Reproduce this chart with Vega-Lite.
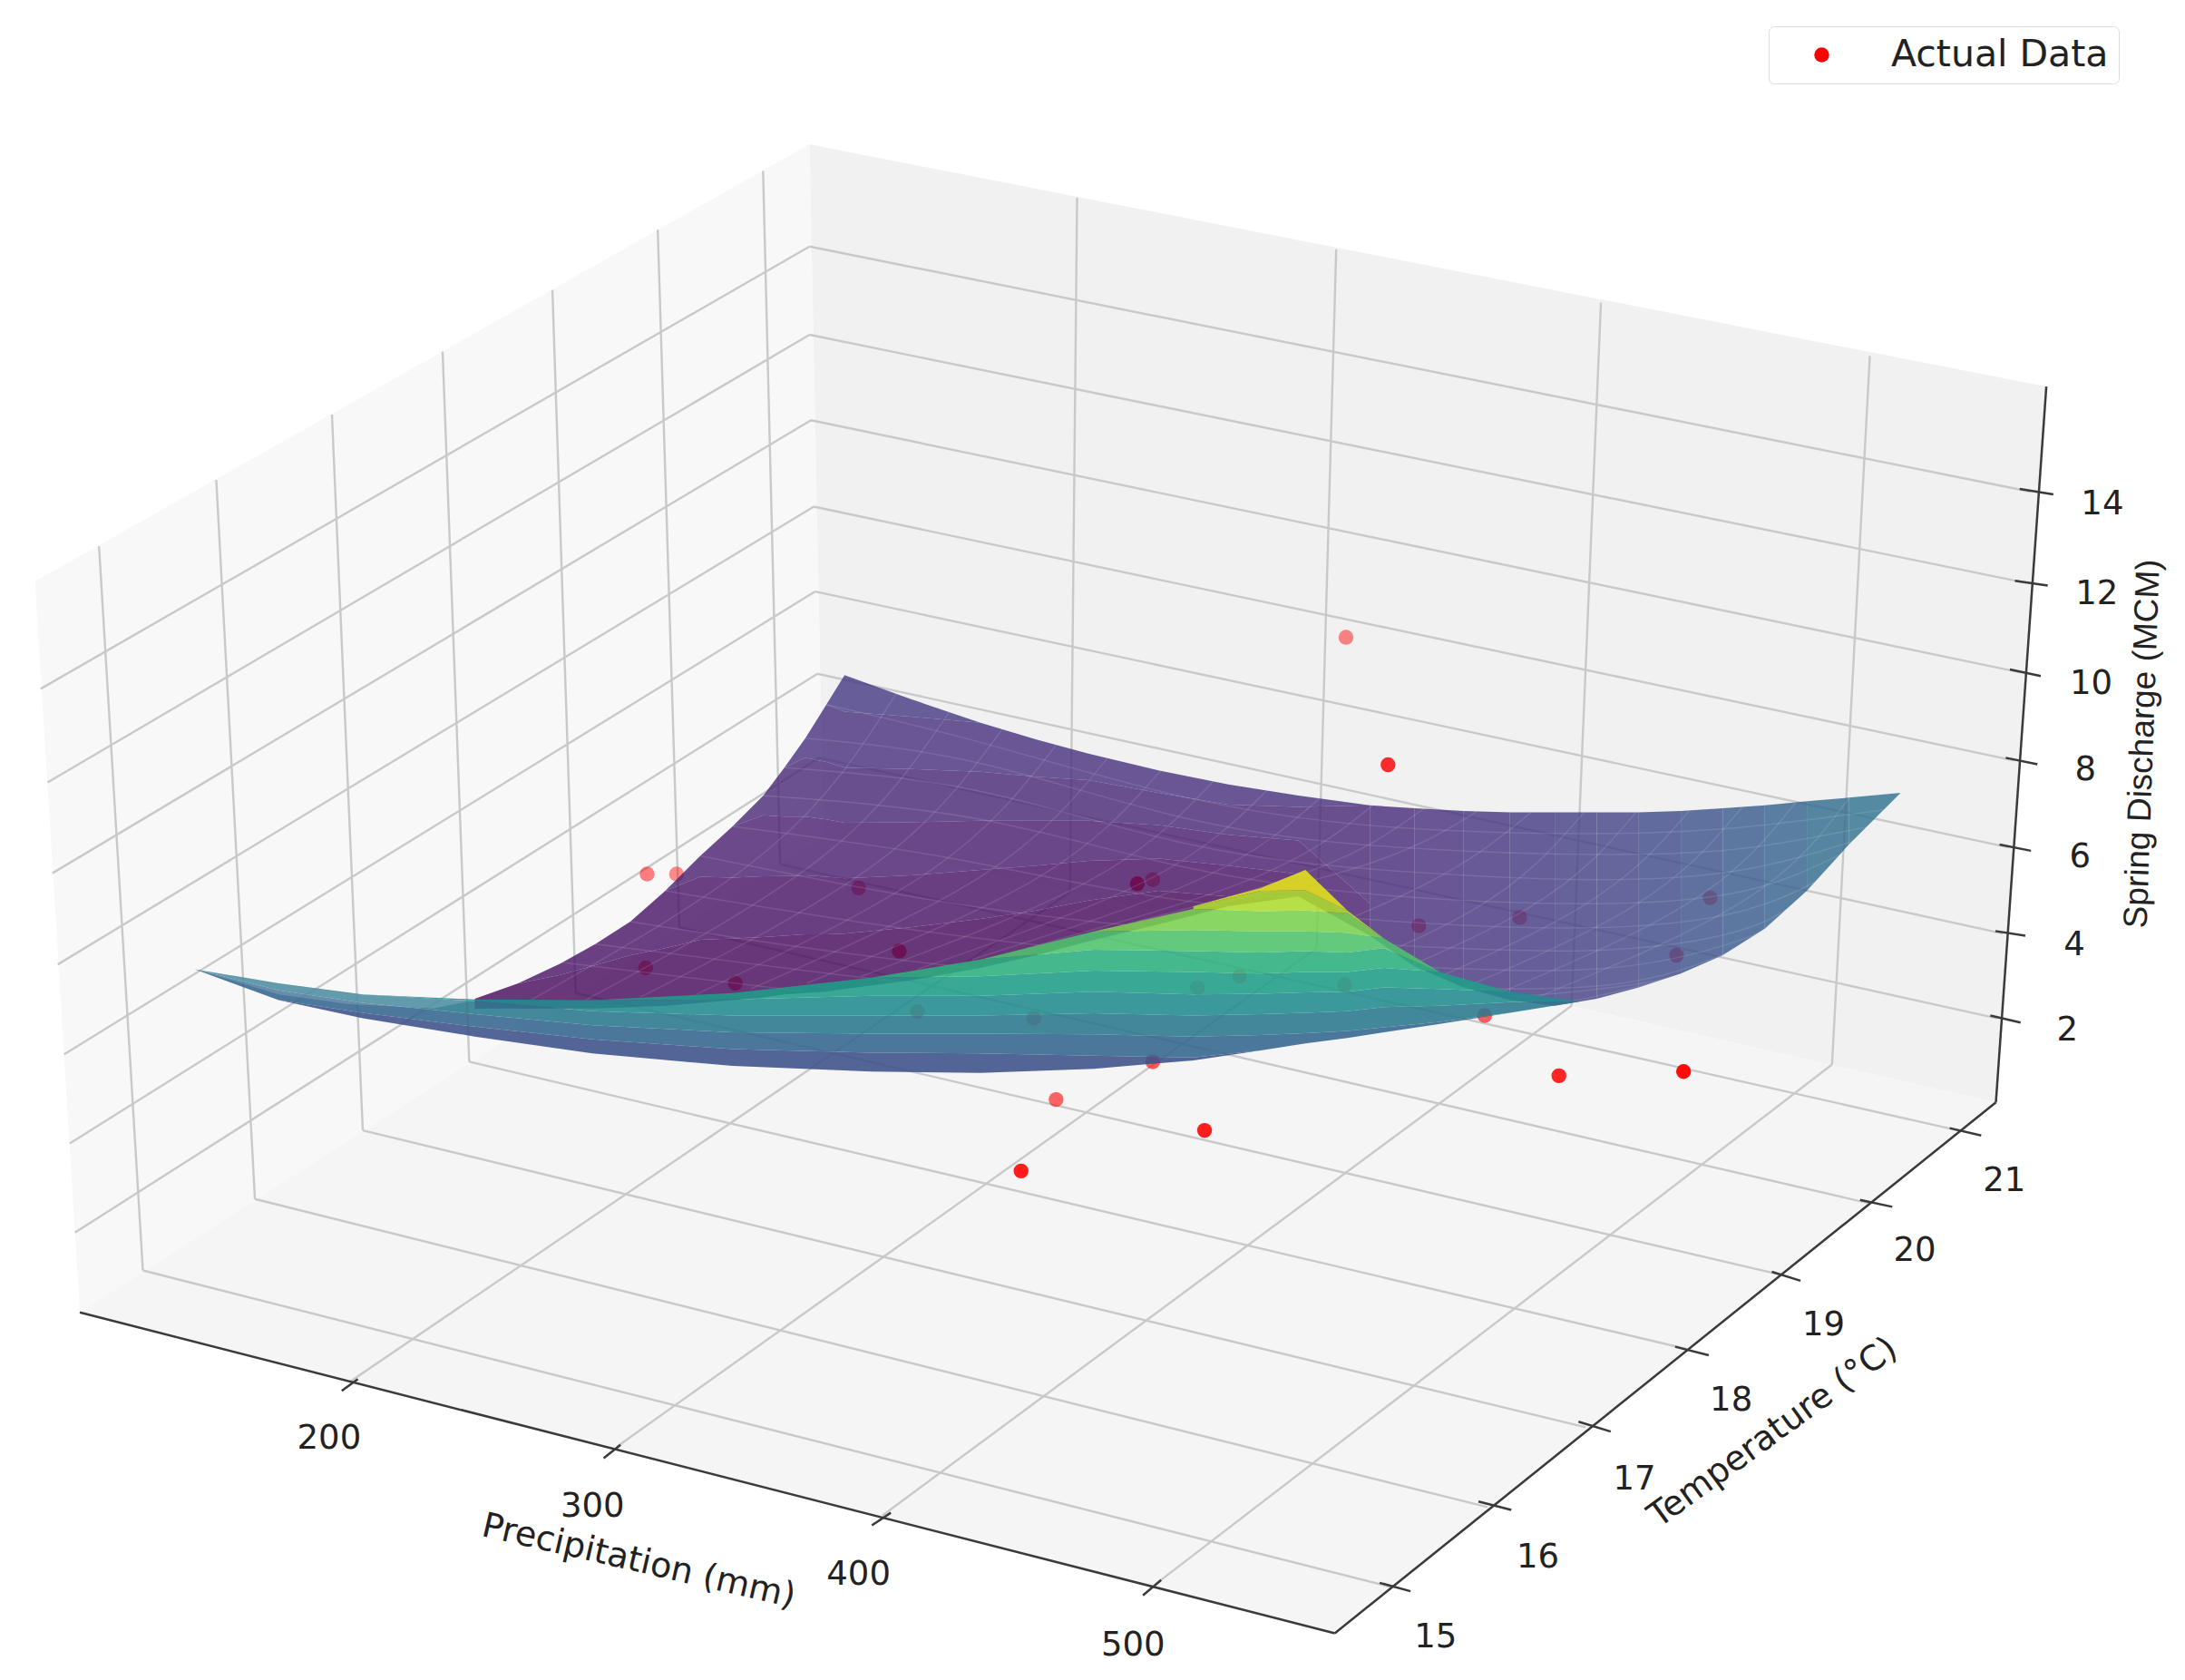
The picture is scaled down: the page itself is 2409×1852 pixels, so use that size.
{"$schema":"https://vega.github.io/schema/vega-lite/v6.json","width":2409,"height":1852,"autosize":{"type":"fit","contains":"padding"},"padding":0,"background":"white","config":{"view":{"stroke":null}},
"datasets":{
"panes":[{"pane":"left","x":25,"y":415,"y2":415},{"pane":"left","x":57,"y":397,"y2":937},{"pane":"left","x":578,"y":103,"y2":603.6},{"pane":"left","x":588,"y":597,"y2":597},
{"pane":"back","x":578,"y":103,"y2":103},{"pane":"back","x":588,"y":105,"y2":597},{"pane":"back","x":1425,"y":269,"y2":787},{"pane":"back","x":1461,"y":276,"y2":276},
{"pane":"floor","x":57,"y":937,"y2":937},{"pane":"floor","x":588,"y":597,"y2":1073},{"pane":"floor","x":953,"y":680,"y2":1166},{"pane":"floor","x":1425,"y":787,"y2":787}],
"grid":[{"x":70.7,"y":390,"x2":102,"y2":907},{"x":154.4,"y":342.6,"x2":182,"y2":856},{"x":237,"y":296,"x2":259,"y2":807},{"x":316,"y":251,"x2":335,"y2":758},{"x":394.4,"y":207,"x2":411,"y2":709},{"x":469.6,"y":164,"x2":485,"y2":662},{"x":544.8,"y":122,"x2":557,"y2":617},
{"x":769,"y":141,"x2":764,"y2":637},{"x":954,"y":178,"x2":940,"y2":677},{"x":1143,"y":216,"x2":1122,"y2":718},{"x":1335,"y":254,"x2":1308,"y2":760},
{"x":578,"y":176,"x2":1449.6,"y2":351},{"x":578,"y":239,"x2":1446,"y2":416},{"x":579,"y":300,"x2":1442,"y2":480},{"x":581,"y":361.7,"x2":1438,"y2":543},{"x":582,"y":422.3,"x2":1434,"y2":605},{"x":583.6,"y":481,"x2":1430,"y2":666.5},{"x":585,"y":541,"x2":1426,"y2":727},
{"x":578,"y":176,"x2":29,"y2":491.8},{"x":578,"y":239,"x2":34,"y2":558.6},{"x":579,"y":300,"x2":37.4,"y2":623.4},{"x":581,"y":361.7,"x2":41.3,"y2":688.5},{"x":582,"y":422.3,"x2":45.8,"y2":752.7},{"x":583.6,"y":481,"x2":49.8,"y2":816.4},{"x":585,"y":541,"x2":53.5,"y2":880},
{"x":250.5,"y":986,"x2":764,"y2":637},{"x":440.7,"y":1032.7,"x2":940,"y2":677},{"x":630,"y":1082,"x2":1122,"y2":718},{"x":825,"y":1131,"x2":1308,"y2":760},
{"x":993,"y":1133,"x2":102,"y2":907},{"x":1062,"y":1076,"x2":182,"y2":856},{"x":1132,"y":1019,"x2":259,"y2":807},{"x":1204,"y":963,"x2":335,"y2":758},{"x":1271,"y":910,"x2":411,"y2":709},{"x":1334,"y":859,"x2":485,"y2":662},{"x":1398,"y":807,"x2":557,"y2":617}],
"axes":[{"x":57,"y":937,"x2":953,"y2":1166},{"x":953,"y":1166,"x2":1425,"y2":787},{"x":1461,"y":276,"x2":1425,"y2":787},
{"x":244,"y":993,"x2":255.5,"y2":984.5},{"x":431,"y":1041,"x2":443,"y2":1031.5},{"x":622.5,"y":1089,"x2":636,"y2":1080},{"x":816,"y":1139,"x2":829,"y2":1128},
{"x":985,"y":1130,"x2":1007,"y2":1136},{"x":1055.6,"y":1072,"x2":1079,"y2":1078},{"x":1127,"y":1015,"x2":1150,"y2":1022},{"x":1196,"y":961.5,"x2":1220,"y2":967.5},{"x":1265,"y":908,"x2":1285.5,"y2":914.4},{"x":1328,"y":856.6,"x2":1351,"y2":861.6},{"x":1392,"y":805.4,"x2":1414.5,"y2":810.7},
{"x":1442,"y":349,"x2":1466,"y2":353},{"x":1438.6,"y":414.6,"x2":1462,"y2":418},{"x":1435,"y":478,"x2":1457,"y2":482.6},{"x":1432,"y":541,"x2":1454.6,"y2":545.6},{"x":1427.6,"y":603,"x2":1450,"y2":607.4},{"x":1424.6,"y":664.7,"x2":1446,"y2":668},{"x":1421,"y":725,"x2":1442.6,"y2":730}],
"points":[{"series":"Actual Data","x":961,"y":455,"depth":0.25},{"series":"Actual Data","x":991,"y":546,"depth":0.8},{"series":"Actual Data","x":462,"y":624,"depth":0.3},{"series":"Actual Data","x":483,"y":624,"depth":0.22},{"series":"Actual Data","x":613,"y":634,"depth":0.4},{"series":"Actual Data","x":812,"y":631,"depth":1},{"series":"Actual Data","x":823,"y":628,"depth":0.4},{"series":"Actual Data","x":461,"y":691,"depth":0.4},{"series":"Actual Data","x":525,"y":702,"depth":0.5},{"series":"Actual Data","x":642,"y":679,"depth":0.7},{"series":"Actual Data","x":1013,"y":661,"depth":0.5},{"series":"Actual Data","x":1085,"y":655,"depth":0.4},{"series":"Actual Data","x":1221,"y":641,"depth":0.4},{"series":"Actual Data","x":1197,"y":682,"depth":0.5},{"series":"Actual Data","x":1060,"y":725,"depth":0.5},{"series":"Actual Data","x":823,"y":758,"depth":0.5},{"series":"Actual Data","x":754,"y":785,"depth":0.45},{"series":"Actual Data","x":860,"y":807,"depth":0.9},{"series":"Actual Data","x":729,"y":836,"depth":0.9},{"series":"Actual Data","x":1113,"y":768,"depth":0.85},{"series":"Actual Data","x":1202,"y":765,"depth":1},{"series":"Actual Data","x":855,"y":705,"depth":0.2},{"series":"Actual Data","x":885,"y":697,"depth":0.2},{"series":"Actual Data","x":960,"y":703,"depth":0.2},{"series":"Actual Data","x":738,"y":727,"depth":0.2},{"series":"Actual Data","x":655,"y":722,"depth":0.2}],
"back":[
{"b":"b0","v":0.015,"x":339,"y":720,"y2":713},{"b":"b0","v":0.015,"x":370,"y":720,"y2":702},{"b":"b0","v":0.015,"x":400,"y":720,"y2":696},{"b":"b0","v":0.015,"x":425,"y":720,"y2":689},{"b":"b0","v":0.015,"x":450,"y":719,"y2":682},{"b":"b0","v":0.015,"x":475,"y":718,"y2":677},{"b":"b0","v":0.015,"x":500,"y":716,"y2":671},{"b":"b0","v":0.015,"x":523,"y":714,"y2":670},{"b":"b0","v":0.015,"x":545,"y":712,"y2":669},{"b":"b0","v":0.015,"x":560,"y":710,"y2":668},{"b":"b0","v":0.015,"x":575,"y":709,"y2":667},{"b":"b0","v":0.015,"x":590,"y":708,"y2":667},{"b":"b0","v":0.015,"x":603,"y":706,"y2":666.5},{"b":"b0","v":0.015,"x":650,"y":700,"y2":662},{"b":"b0","v":0.015,"x":700,"y":691,"y2":656},{"b":"b0","v":0.015,"x":740,"y":682,"y2":650},{"b":"b0","v":0.015,"x":777,"y":672,"y2":643},{"b":"b0","v":0.015,"x":827,"y":660,"y2":636},{"b":"b0","v":0.015,"x":877,"y":647,"y2":640},{"b":"b0","v":0.015,"x":927,"y":640,"y2":640},
{"b":"b1","v":0.045,"x":370,"y":702,"y2":702},{"b":"b1","v":0.045,"x":400,"y":696,"y2":688},{"b":"b1","v":0.045,"x":425,"y":689,"y2":674},{"b":"b1","v":0.045,"x":450,"y":682,"y2":658},{"b":"b1","v":0.045,"x":475,"y":677,"y2":636},{"b":"b1","v":0.045,"x":500,"y":671,"y2":626},{"b":"b1","v":0.045,"x":523,"y":670,"y2":626.5},{"b":"b1","v":0.045,"x":545,"y":669,"y2":625.6},{"b":"b1","v":0.045,"x":560,"y":668,"y2":625.5},{"b":"b1","v":0.045,"x":575,"y":667,"y2":625},{"b":"b1","v":0.045,"x":590,"y":667,"y2":626},{"b":"b1","v":0.045,"x":603,"y":666.5,"y2":627},{"b":"b1","v":0.045,"x":650,"y":662,"y2":625},{"b":"b1","v":0.045,"x":700,"y":656,"y2":621},{"b":"b1","v":0.045,"x":740,"y":650,"y2":618},{"b":"b1","v":0.045,"x":777,"y":643,"y2":614.6},{"b":"b1","v":0.045,"x":827,"y":636,"y2":613},{"b":"b1","v":0.045,"x":877,"y":640,"y2":618},{"b":"b1","v":0.045,"x":927,"y":640,"y2":624},{"b":"b1","v":0.045,"x":978,"y":668,"y2":668},
{"b":"b2","v":0.075,"x":475,"y":636,"y2":636},{"b":"b2","v":0.075,"x":500,"y":626,"y2":611},{"b":"b2","v":0.075,"x":523,"y":626.5,"y2":590},{"b":"b2","v":0.075,"x":545,"y":625.6,"y2":582},{"b":"b2","v":0.075,"x":560,"y":625.5,"y2":583},{"b":"b2","v":0.075,"x":575,"y":625,"y2":583},{"b":"b2","v":0.075,"x":590,"y":626,"y2":585},{"b":"b2","v":0.075,"x":603,"y":627,"y2":587.4},{"b":"b2","v":0.075,"x":650,"y":625,"y2":587},{"b":"b2","v":0.075,"x":700,"y":621,"y2":586},{"b":"b2","v":0.075,"x":740,"y":618,"y2":586},{"b":"b2","v":0.075,"x":777,"y":614.6,"y2":586},{"b":"b2","v":0.075,"x":827,"y":613,"y2":589},{"b":"b2","v":0.075,"x":877,"y":618,"y2":596},{"b":"b2","v":0.075,"x":927,"y":624,"y2":600},{"b":"b2","v":0.075,"x":978,"y":668,"y2":645},
{"b":"b3","v":0.105,"x":523,"y":590,"y2":590},{"b":"b3","v":0.105,"x":545,"y":582,"y2":568},{"b":"b3","v":0.105,"x":560,"y":583,"y2":548},{"b":"b3","v":0.105,"x":575,"y":583,"y2":541},{"b":"b3","v":0.105,"x":590,"y":585,"y2":544},{"b":"b3","v":0.105,"x":603,"y":587.4,"y2":548},{"b":"b3","v":0.105,"x":650,"y":587,"y2":549},{"b":"b3","v":0.105,"x":700,"y":586,"y2":551},{"b":"b3","v":0.105,"x":740,"y":586,"y2":554.6},{"b":"b3","v":0.105,"x":777,"y":586,"y2":557},{"b":"b3","v":0.105,"x":827,"y":589,"y2":566},{"b":"b3","v":0.105,"x":877,"y":596,"y2":574.5},{"b":"b3","v":0.105,"x":927,"y":600,"y2":576},{"b":"b3","v":0.105,"x":978,"y":645,"y2":575},
{"b":"b4","v":0.135,"x":560,"y":548,"y2":548},{"b":"b4","v":0.135,"x":575,"y":541,"y2":527},{"b":"b4","v":0.135,"x":590,"y":544,"y2":503},{"b":"b4","v":0.135,"x":603,"y":548,"y2":508},{"b":"b4","v":0.135,"x":650,"y":549,"y2":511.6},{"b":"b4","v":0.135,"x":700,"y":551,"y2":516},{"b":"b4","v":0.135,"x":740,"y":554.6,"y2":528},{"b":"b4","v":0.135,"x":777,"y":557,"y2":538},{"b":"b4","v":0.135,"x":827,"y":566,"y2":550},{"b":"b4","v":0.135,"x":877,"y":574.5,"y2":560},{"b":"b4","v":0.135,"x":927,"y":576,"y2":568},{"b":"b4","v":0.135,"x":978,"y":575,"y2":575},
{"b":"b5","v":0.16,"x":590,"y":503,"y2":503},{"b":"b5","v":0.16,"x":603,"y":508,"y2":482},{"b":"b5","v":0.16,"x":650,"y":511.6,"y2":499},{"b":"b5","v":0.16,"x":700,"y":516,"y2":516},
{"b":"r0","v":0.12,"x":978,"y":668,"y2":575},{"b":"r0","v":0.12,"x":1010,"y":690,"y2":577},
{"b":"r1","v":0.135,"x":1010,"y":690,"y2":577},{"b":"r1","v":0.135,"x":1045,"y":705,"y2":579},
{"b":"r2","v":0.15,"x":1045,"y":705,"y2":579},{"b":"r2","v":0.15,"x":1078,"y":714,"y2":580},
{"b":"r3","v":0.165,"x":1078,"y":714,"y2":580},{"b":"r3","v":0.165,"x":1110,"y":718,"y2":580},
{"b":"r4","v":0.18,"x":1110,"y":718,"y2":580},{"b":"r4","v":0.18,"x":1140,"y":713,"y2":580},
{"b":"r5","v":0.2,"x":1140,"y":713,"y2":580},{"b":"r5","v":0.2,"x":1170,"y":705,"y2":580},
{"b":"r6","v":0.22,"x":1170,"y":705,"y2":580},{"b":"r6","v":0.22,"x":1200,"y":695,"y2":579},
{"b":"r7","v":0.25,"x":1200,"y":695,"y2":579},{"b":"r7","v":0.25,"x":1230,"y":682,"y2":577},
{"b":"r8","v":0.28,"x":1230,"y":682,"y2":577},{"b":"r8","v":0.28,"x":1260,"y":663,"y2":575},
{"b":"r9","v":0.31,"x":1260,"y":663,"y2":575},{"b":"r9","v":0.31,"x":1290,"y":636,"y2":572},
{"b":"r10","v":0.34,"x":1290,"y":636,"y2":572},{"b":"r10","v":0.34,"x":1320,"y":603,"y2":569.5},
{"b":"r11","v":0.37,"x":1320,"y":603,"y2":569.5},{"b":"r11","v":0.37,"x":1357,"y":566,"y2":566}],
"mesh":[
{"m":"s05","i":0,"x":640,"y":495},{"m":"s05","i":1,"x":549,"y":606},{"m":"s05","i":2,"x":379,"y":714},
{"m":"s1","i":0,"x":678,"y":508},{"m":"s1","i":1,"x":588,"y":611},{"m":"s1","i":2,"x":418,"y":714},
{"m":"s15","i":0,"x":716,"y":520},{"m":"s15","i":1,"x":626,"y":616},{"m":"s15","i":2,"x":457,"y":712},
{"m":"s2","i":0,"x":754,"y":532},{"m":"s2","i":1,"x":665,"y":621},{"m":"s2","i":2,"x":497,"y":710},
{"m":"s25","i":0,"x":791,"y":541},{"m":"s25","i":1,"x":703,"y":624},{"m":"s25","i":2,"x":536,"y":706},
{"m":"s3","i":0,"x":829,"y":550},{"m":"s3","i":1,"x":742,"y":626},{"m":"s3","i":2,"x":576,"y":702},
{"m":"s35","i":0,"x":867,"y":557},{"m":"s35","i":1,"x":781,"y":627},{"m":"s35","i":2,"x":615,"y":697},
{"m":"s4","i":0,"x":905,"y":564},{"m":"s4","i":1,"x":820,"y":628},{"m":"s4","i":2,"x":655,"y":692},
{"m":"s45","i":0,"x":942,"y":570},{"m":"s45","i":1,"x":858,"y":627},{"m":"s45","i":2,"x":694,"y":685},
{"m":"s5","i":0,"x":980,"y":575},{"m":"s5","i":1,"x":897,"y":626},{"m":"s5","i":2,"x":733,"y":677},
{"m":"s55","i":0,"x":1017,"y":577},{"m":"s55","i":1,"x":935,"y":622},{"m":"s55","i":2,"x":772,"y":668},
{"m":"s6","i":0,"x":1055,"y":579},{"m":"s6","i":1,"x":973,"y":618},{"m":"s6","i":2,"x":812,"y":658},
{"m":"s65","i":0,"x":1093,"y":580},{"m":"s65","i":1,"x":1012,"y":634},{"m":"s65","i":2,"x":851,"y":700},
{"m":"s7","i":0,"x":1131,"y":580},{"m":"s7","i":1,"x":1051,"y":650},{"m":"s7","i":2,"x":891,"y":720},
{"m":"s75","i":0,"x":1168,"y":580},{"m":"s75","i":1,"x":1090,"y":649},{"m":"s75","i":2,"x":930,"y":721},
{"m":"s8","i":0,"x":1206,"y":579},{"m":"s8","i":1,"x":1128,"y":648},{"m":"s8","i":2,"x":970,"y":722},
{"m":"s85","i":0,"x":1244,"y":576},{"m":"s85","i":1,"x":1166,"y":647},{"m":"s85","i":2,"x":1010,"y":720},
{"m":"s9","i":0,"x":1282,"y":573},{"m":"s9","i":1,"x":1205,"y":645},{"m":"s9","i":2,"x":1049,"y":718},
{"m":"s95","i":0,"x":1320,"y":570},{"m":"s95","i":1,"x":1245,"y":643},{"m":"s95","i":2,"x":1088,"y":716},
{"m":"w05","i":0,"x":590,"y":503},{"m":"w05","i":1,"x":700,"y":530},{"m":"w05","i":2,"x":850,"y":570},{"m":"w05","i":3,"x":1000,"y":591},{"m":"w05","i":4,"x":1150,"y":595},{"m":"w05","i":5,"x":1250,"y":590},{"m":"w05","i":6,"x":1346,"y":578},
{"m":"w1","i":0,"x":575,"y":527},{"m":"w1","i":1,"x":700,"y":545},{"m":"w1","i":2,"x":850,"y":585},{"m":"w1","i":3,"x":1000,"y":605},{"m":"w1","i":4,"x":1150,"y":610},{"m":"w1","i":5,"x":1250,"y":605},{"m":"w1","i":6,"x":1335,"y":590},
{"m":"w15","i":0,"x":560,"y":548},{"m":"w15","i":1,"x":700,"y":565},{"m":"w15","i":2,"x":850,"y":603},{"m":"w15","i":3,"x":1000,"y":622},{"m":"w15","i":4,"x":1150,"y":628},{"m":"w15","i":5,"x":1250,"y":620},{"m":"w15","i":6,"x":1325,"y":600},
{"m":"w2","i":0,"x":545,"y":568},{"m":"w2","i":1,"x":700,"y":585},{"m":"w2","i":2,"x":850,"y":620},{"m":"w2","i":3,"x":1000,"y":640},{"m":"w2","i":4,"x":1150,"y":645},{"m":"w2","i":5,"x":1250,"y":635},{"m":"w2","i":6,"x":1314,"y":610},
{"m":"w25","i":0,"x":523,"y":590},{"m":"w25","i":1,"x":675,"y":612},{"m":"w25","i":2,"x":825,"y":640},{"m":"w25","i":3,"x":1000,"y":658},{"m":"w25","i":4,"x":1150,"y":662},{"m":"w25","i":5,"x":1245,"y":650},{"m":"w25","i":6,"x":1297,"y":629},
{"m":"w3","i":0,"x":500,"y":611},{"m":"w3","i":1,"x":650,"y":640},{"m":"w3","i":2,"x":800,"y":660},{"m":"w3","i":3,"x":1000,"y":675},{"m":"w3","i":4,"x":1150,"y":678},{"m":"w3","i":5,"x":1240,"y":665},{"m":"w3","i":6,"x":1279,"y":647},
{"m":"w35","i":0,"x":475,"y":636},{"m":"w35","i":1,"x":625,"y":660},{"m":"w35","i":2,"x":800,"y":680},{"m":"w35","i":3,"x":1000,"y":690},{"m":"w35","i":4,"x":1150,"y":691},{"m":"w35","i":5,"x":1240,"y":672},{"m":"w35","i":6,"x":1260,"y":663},
{"m":"w4","i":0,"x":450,"y":658},{"m":"w4","i":1,"x":600,"y":680},{"m":"w4","i":2,"x":800,"y":700},{"m":"w4","i":3,"x":1000,"y":705},{"m":"w4","i":4,"x":1150,"y":703},{"m":"w4","i":5,"x":1239,"y":678},
{"m":"w45","i":0,"x":425,"y":674},{"m":"w45","i":1,"x":575,"y":693},{"m":"w45","i":2,"x":800,"y":715},{"m":"w45","i":3,"x":1025,"y":715},{"m":"w45","i":4,"x":1172,"y":702},{"m":"w45","i":5,"x":1215,"y":689},
{"m":"w5","i":0,"x":400,"y":687},{"m":"w5","i":1,"x":550,"y":705},{"m":"w5","i":2,"x":800,"y":730},{"m":"w5","i":3,"x":1050,"y":725},{"m":"w5","i":4,"x":1194,"y":698}],
"front":[
{"b":"f0","v":0.24,"x":139,"y":692,"y2":692},{"b":"f0","v":0.24,"x":199,"y":714,"y2":714},{"b":"f0","v":0.24,"x":259,"y":727,"y2":723},{"b":"f0","v":0.24,"x":339,"y":740,"y2":733},{"b":"f0","v":0.24,"x":423,"y":752,"y2":742},{"b":"f0","v":0.24,"x":523,"y":761,"y2":749},{"b":"f0","v":0.24,"x":622,"y":765,"y2":751.6},{"b":"f0","v":0.24,"x":700,"y":766,"y2":752},{"b":"f0","v":0.24,"x":781,"y":763,"y2":753.6},{"b":"f0","v":0.24,"x":852,"y":757,"y2":755},{"b":"f0","v":0.24,"x":900,"y":750,"y2":750},
{"b":"f1","v":0.32,"x":139,"y":692,"y2":692},{"b":"f1","v":0.32,"x":199,"y":714,"y2":707},{"b":"f1","v":0.32,"x":259,"y":723,"y2":716},{"b":"f1","v":0.32,"x":339,"y":733,"y2":724},{"b":"f1","v":0.32,"x":423,"y":742,"y2":732},{"b":"f1","v":0.32,"x":523,"y":749,"y2":737},{"b":"f1","v":0.32,"x":622,"y":751.6,"y2":738},{"b":"f1","v":0.32,"x":700,"y":752,"y2":738},{"b":"f1","v":0.32,"x":781,"y":753.6,"y2":738.5},{"b":"f1","v":0.32,"x":852,"y":755,"y2":740},{"b":"f1","v":0.32,"x":900,"y":750,"y2":739},{"b":"f1","v":0.32,"x":932,"y":745,"y2":737.7},{"b":"f1","v":0.32,"x":962,"y":741,"y2":736},{"b":"f1","v":0.32,"x":988,"y":737,"y2":733.5},{"b":"f1","v":0.32,"x":1028,"y":731,"y2":729.5},{"b":"f1","v":0.32,"x":1078,"y":723,"y2":723},
{"b":"f2","v":0.4,"x":139,"y":692,"y2":692},{"b":"f2","v":0.4,"x":199,"y":707,"y2":702},{"b":"f2","v":0.4,"x":259,"y":716,"y2":710},{"b":"f2","v":0.4,"x":339,"y":724,"y2":714.6},{"b":"f2","v":0.4,"x":423,"y":732,"y2":722},{"b":"f2","v":0.4,"x":523,"y":737,"y2":725},{"b":"f2","v":0.4,"x":622,"y":738,"y2":725},{"b":"f2","v":0.4,"x":700,"y":738,"y2":725},{"b":"f2","v":0.4,"x":781,"y":738.5,"y2":723.4},{"b":"f2","v":0.4,"x":852,"y":740,"y2":725},{"b":"f2","v":0.4,"x":900,"y":739,"y2":724},{"b":"f2","v":0.4,"x":932,"y":737.7,"y2":723},{"b":"f2","v":0.4,"x":962,"y":736,"y2":722},{"b":"f2","v":0.4,"x":988,"y":733.5,"y2":719},{"b":"f2","v":0.4,"x":1028,"y":729.5,"y2":718},{"b":"f2","v":0.4,"x":1078,"y":723,"y2":715.5},{"b":"f2","v":0.4,"x":1128,"y":715,"y2":715},
{"b":"f3","v":0.48,"x":199,"y":702,"y2":702},{"b":"f3","v":0.48,"x":259,"y":710,"y2":710},{"b":"f3","v":0.48,"x":339,"y":714.6,"y2":713.5},{"b":"f3","v":0.48,"x":423,"y":722,"y2":714},{"b":"f3","v":0.48,"x":523,"y":725,"y2":713.5},{"b":"f3","v":0.48,"x":622,"y":725,"y2":711},{"b":"f3","v":0.48,"x":700,"y":725,"y2":711},{"b":"f3","v":0.48,"x":781,"y":723.4,"y2":708},{"b":"f3","v":0.48,"x":852,"y":725,"y2":710},{"b":"f3","v":0.48,"x":900,"y":724,"y2":709.5},{"b":"f3","v":0.48,"x":932,"y":723,"y2":708.5},{"b":"f3","v":0.48,"x":962,"y":722,"y2":708},{"b":"f3","v":0.48,"x":988,"y":719,"y2":705},{"b":"f3","v":0.48,"x":1028,"y":718,"y2":706},{"b":"f3","v":0.48,"x":1078,"y":715.5,"y2":708},{"b":"f3","v":0.48,"x":1128,"y":715,"y2":715},
{"b":"f4","v":0.56,"x":423,"y":714,"y2":714},{"b":"f4","v":0.56,"x":523,"y":713.5,"y2":709},{"b":"f4","v":0.56,"x":622,"y":711,"y2":698},{"b":"f4","v":0.56,"x":700,"y":711,"y2":697},{"b":"f4","v":0.56,"x":781,"y":708,"y2":693},{"b":"f4","v":0.56,"x":852,"y":710,"y2":694},{"b":"f4","v":0.56,"x":900,"y":709.5,"y2":695},{"b":"f4","v":0.56,"x":932,"y":708.5,"y2":694},{"b":"f4","v":0.56,"x":962,"y":708,"y2":694},{"b":"f4","v":0.56,"x":988,"y":705,"y2":691},{"b":"f4","v":0.56,"x":1028,"y":706,"y2":694},{"b":"f4","v":0.56,"x":1078,"y":708,"y2":708},
{"b":"f5","v":0.64,"x":523,"y":709,"y2":709},{"b":"f5","v":0.64,"x":622,"y":698,"y2":698},{"b":"f5","v":0.64,"x":700,"y":697,"y2":685},{"b":"f5","v":0.64,"x":781,"y":693,"y2":678},{"b":"f5","v":0.64,"x":852,"y":694,"y2":679},{"b":"f5","v":0.64,"x":900,"y":695,"y2":680},{"b":"f5","v":0.64,"x":932,"y":694,"y2":679},{"b":"f5","v":0.64,"x":962,"y":694,"y2":680},{"b":"f5","v":0.64,"x":988,"y":691,"y2":677},{"b":"f5","v":0.64,"x":1028,"y":694,"y2":694},
{"b":"f6","v":0.72,"x":700,"y":685,"y2":685},{"b":"f6","v":0.72,"x":781,"y":678,"y2":665},{"b":"f6","v":0.72,"x":852,"y":679,"y2":664},{"b":"f6","v":0.72,"x":900,"y":680,"y2":665},{"b":"f6","v":0.72,"x":932,"y":679,"y2":665},{"b":"f6","v":0.72,"x":962,"y":680,"y2":666},{"b":"f6","v":0.72,"x":988,"y":677,"y2":670},{"b":"f6","v":0.72,"x":1028,"y":694,"y2":694},
{"b":"f7","v":0.8,"x":781,"y":665,"y2":665},{"b":"f7","v":0.8,"x":852,"y":664,"y2":649},{"b":"f7","v":0.8,"x":900,"y":665,"y2":650.6},{"b":"f7","v":0.8,"x":932,"y":665,"y2":650},{"b":"f7","v":0.8,"x":962,"y":666,"y2":652},{"b":"f7","v":0.8,"x":988,"y":670,"y2":670},
{"b":"f8","v":0.88,"x":852,"y":649,"y2":647},{"b":"f8","v":0.88,"x":900,"y":650.6,"y2":636},{"b":"f8","v":0.88,"x":932,"y":650,"y2":635.6},{"b":"f8","v":0.88,"x":962,"y":652,"y2":650},{"b":"f8","v":0.88,"x":988,"y":670,"y2":670},
{"b":"f9","v":0.96,"x":852,"y":647,"y2":647},{"b":"f9","v":0.96,"x":900,"y":636,"y2":634},{"b":"f9","v":0.96,"x":932,"y":635.6,"y2":621},{"b":"f9","v":0.96,"x":962,"y":650,"y2":650}],
"tip":[{"x":139,"y":692,"y2":692},{"x":199,"y":710,"y2":702},{"x":249,"y":717,"y2":709},{"x":309,"y":720,"y2":713},{"x":339,"y":714,"y2":714}],
"ticks":[{"x":235,"y":1027,"t":"200"},{"x":423,"y":1076,"t":"300"},{"x":613,"y":1124,"t":"400"},{"x":809,"y":1175,"t":"500"},{"x":1025,"y":1169,"t":"15"},{"x":1098,"y":1112,"t":"16"},{"x":1167,"y":1056,"t":"17"},{"x":1236,"y":1000,"t":"18"},{"x":1302,"y":946,"t":"19"},{"x":1367,"y":893,"t":"20"},{"x":1431,"y":843,"t":"21"},{"x":1501,"y":360,"t":"14"},{"x":1497,"y":424,"t":"12"},{"x":1493,"y":488,"t":"10"},{"x":1489,"y":550,"t":"8"},{"x":1485,"y":612,"t":"6"},{"x":1481,"y":675,"t":"4"},{"x":1476,"y":736,"t":"2"}],
"titles":[{"x":456,"y":1115,"t":"Precipitation (mm)","a":13},{"x":1266,"y":1023,"t":"Temperature (°C)","a":-36}],
"ztitle":[{"x":1530,"y":531,"t":"Spring Discharge (MCM)","a":-88}]
},
"encoding":{"x":{"field":"x","type":"quantitative","axis":null,"scale":{"domain":[0,1560],"nice":false,"zero":false}},"y":{"field":"y","type":"quantitative","axis":null,"scale":{"domain":[1199.4,0],"nice":false,"zero":false}}},
"layer":[
{"data":{"name":"panes"},"mark":{"type":"area","line":false},"encoding":{"y2":{"field":"y2"},"color":{"field":"pane","type":"nominal","legend":null,"scale":{"domain":["left","back","floor"],"range":["#f8f8f8","#f1f1f1","#f5f5f5"]}}}},
{"data":{"name":"grid"},"mark":{"type":"rule","color":"#c9c9c9","strokeWidth":2.4},"encoding":{"x2":{"field":"x2"},"y2":{"field":"y2"}}},
{"data":{"name":"points"},"mark":{"type":"point","filled":true,"size":270},"encoding":{"color":{"field":"series","type":"nominal","scale":{"domain":["Actual Data"],"range":["#ff0000"]},"legend":{"title":null,"orient":"none","legendX":1950,"legendY":29,"fillColor":"white","strokeColor":"#dcdcdc","cornerRadius":6,"padding":11,"labelFont":"DejaVu Sans","labelFontSize":41,"labelLimit":400,"labelColor":"#222222","symbolSize":270,"symbolOpacity":1,"symbolOffset":27,"labelOffset":56,"symbolType":"circle"}},"opacity":{"field":"depth","type":"quantitative","legend":null,"scale":{"domain":[0,1],"range":[0.3,0.95]}}}},
{"data":{"name":"back"},"mark":{"type":"area","line":false,"opacity":0.8},"encoding":{"y2":{"field":"y2"},"detail":{"field":"b"},"color":{"field":"v","type":"quantitative","legend":null,"scale":{"scheme":"viridis","domain":[0,1]}}}},
{"data":{"name":"mesh"},"mark":{"type":"line","color":"#ffffff","opacity":0.11,"strokeWidth":1.5,"interpolate":"natural"},"encoding":{"detail":{"field":"m"},"order":{"field":"i"}}},
{"data":{"name":"front"},"mark":{"type":"area","line":false,"opacity":0.88},"encoding":{"y2":{"field":"y2"},"detail":{"field":"b"},"color":{"field":"v","type":"quantitative","legend":null,"scale":{"scheme":"viridis","domain":[0,1]}}}},
{"data":{"name":"tip"},"mark":{"type":"area","line":false,"color":"#ffffff","opacity":0.16},"encoding":{"y2":{"field":"y2"}}},
{"data":{"name":"axes"},"mark":{"type":"rule","color":"#3a3a3a","strokeWidth":2.5},"encoding":{"x2":{"field":"x2"},"y2":{"field":"y2"}}},
{"data":{"name":"ticks"},"mark":{"type":"text","font":"DejaVu Sans","fontSize":37,"color":"#222222","align":"center","baseline":"middle"},"encoding":{"text":{"field":"t"}}},
{"data":{"name":"titles"},"mark":{"type":"text","font":"DejaVu Sans","fontSize":38,"color":"#222222","align":"center","baseline":"middle"},"encoding":{"text":{"field":"t"},"angle":{"field":"a","type":"quantitative","scale":null}}},
{"data":{"name":"ztitle"},"mark":{"type":"text","font":"Liberation Sans","fontSize":37,"color":"#222222","align":"center","baseline":"middle"},"encoding":{"text":{"field":"t"},"angle":{"field":"a","type":"quantitative","scale":null}}}
],
"resolve":{"scale":{"color":"independent","opacity":"independent"}}}
